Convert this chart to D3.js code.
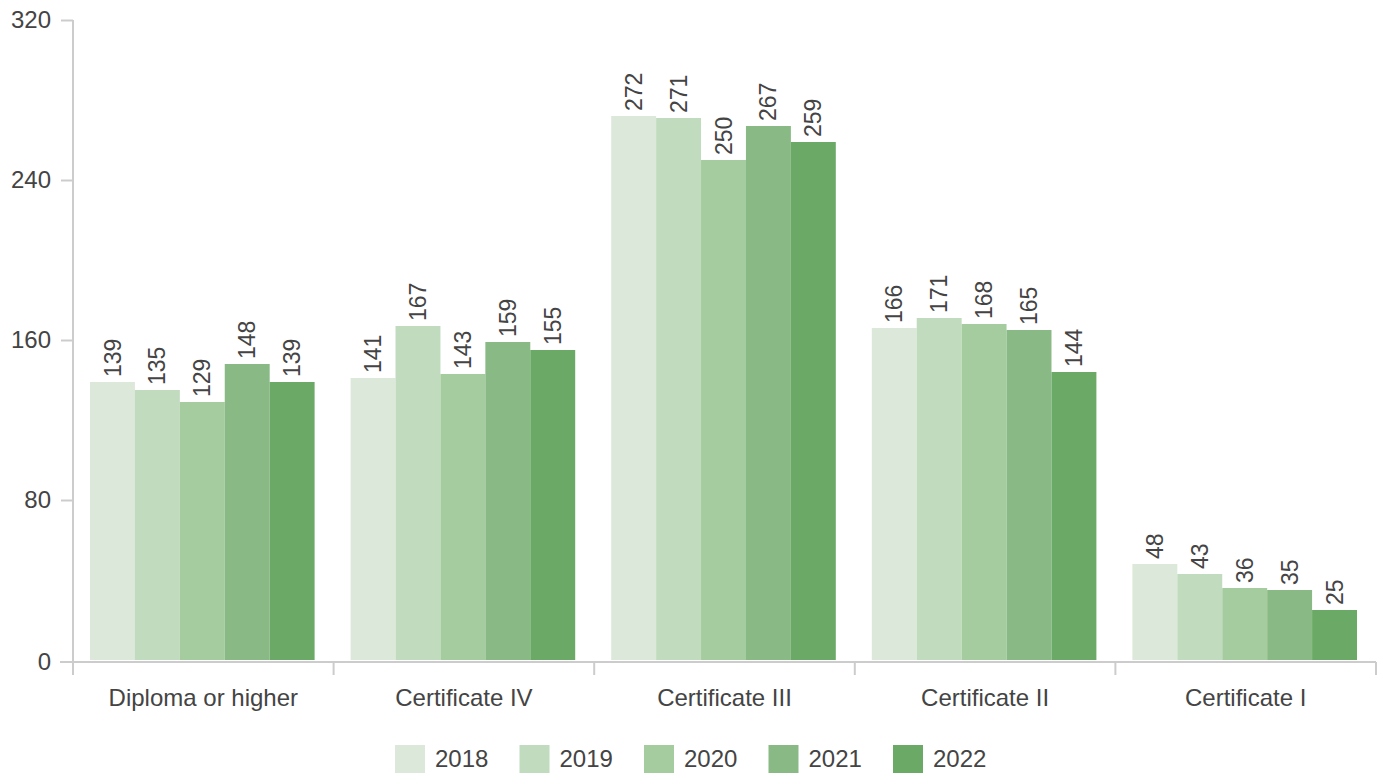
<!DOCTYPE html>
<html>
<head>
<meta charset="utf-8">
<script src="https://cdn.jsdelivr.net/npm/d3@7"></script>
<style>
  body { margin: 0; background: #fff; }
  text { font-family: 'Liberation Sans', Arial, sans-serif; fill: #444; }
</style>
</head>
<body>
<div id="chart-area"></div>
<script>
const categories = ['Diploma or higher', 'Certificate IV', 'Certificate III', 'Certificate II', 'Certificate I']
const years = ['2018', '2019', '2020', '2021', '2022']
const values2018 = [139, 141, 272, 166, 48]
const values2019 = [135, 167, 271, 171, 43]
const values2020 = [129, 143, 250, 168, 36]
const values2021 = [148, 159, 267, 165, 35]
const values2022 = [139, 155, 259, 144, 25]
const yTicks = [0, 80, 160, 240, 320]
const colors = ['#dce9da', '#c0dbbd', '#a5cc9f', '#89b984', '#6baa66']

const series = [values2018, values2019, values2020, values2021, values2022]

const W = 1382
const H = 773
const plotLeft = 73
const plotRight = 1376
const plotTop = 20
const plotBottom = 660

const svg = d3.select('#chart-area')
              .append('svg')
              .attr('width', W)
              .attr('height', H)

const x = d3.scaleBand()
            .domain(categories)
            .range([plotLeft, plotRight])

const inner = d3.scaleBand()
                .domain(years)
                .range([17, x.bandwidth() - 19])

const y = d3.scaleLinear()
            .domain([0, 320])
            .range([plotBottom, plotTop])

// y axis
const yAxis = svg.append('g')
   .attr('transform', 'translate(' + plotLeft + ',0)')
   .call(d3.axisLeft(y).tickValues(yTicks).tickSize(12).tickPadding(10))
yAxis.select('.domain').attr('stroke', '#ccc').attr('stroke-width', 2)
     .attr('d', 'M0,' + plotTop + 'V' + (plotBottom + 15))
yAxis.selectAll('.tick line').attr('stroke', '#ccc').attr('stroke-width', 2)
yAxis.selectAll('.tick text').attr('font-size', '24px').style('fill', '#444')
yAxis.selectAll('.tick').filter(d => d === 0).attr('transform', 'translate(0,' + (plotBottom + 2) + ')')

// bars
const groups = svg.selectAll('g.cat')
   .data(categories)
   .enter()
   .append('g')
   .attr('class', 'cat')
   .attr('transform', d => 'translate(' + x(d) + ',0)')

groups.selectAll('rect')
   .data((d, i) => years.map((yr, j) => ({ year: yr, value: series[j][i], j })))
   .enter()
   .append('rect')
   .attr('x', d => inner(d.year))
   .attr('y', d => y(d.value))
   .attr('width', inner.bandwidth())
   .attr('height', d => plotBottom - y(d.value))
   .attr('fill', d => colors[d.j])

groups.selectAll('text.val')
   .data((d, i) => years.map((yr, j) => ({ year: yr, value: series[j][i], j })))
   .enter()
   .append('text')
   .attr('class', 'val')
   .attr('transform', d => 'translate(' + (inner(d.year) + inner.bandwidth() / 2) + ',' + (y(d.value) - 5) + ') rotate(-90)')
   .attr('dy', '0.35em')
   .attr('font-size', '23px')
   .text(d => d.value)

// x axis
const xLine = svg.append('g')
xLine.append('line')
   .attr('x1', 60).attr('x2', plotRight)
   .attr('y1', plotBottom + 2).attr('y2', plotBottom + 2)
   .attr('stroke', '#ccc').attr('stroke-width', 2)
xLine.selectAll('line.tk')
   .data(categories.concat(['end']))
   .enter()
   .append('line')
   .attr('class', 'tk')
   .attr('x1', (d, i) => i < categories.length ? x(d) : plotRight)
   .attr('x2', (d, i) => i < categories.length ? x(d) : plotRight)
   .attr('y1', plotBottom + 2).attr('y2', plotBottom + 15)
   .attr('stroke', '#ccc').attr('stroke-width', 2)

svg.selectAll('text.catlabel')
   .data(categories)
   .enter()
   .append('text')
   .attr('class', 'catlabel')
   .attr('x', d => x(d) + x.bandwidth() / 2)
   .attr('y', 706)
   .attr('text-anchor', 'middle')
   .attr('font-size', '24px')
   .text(d => d)

// legend
const legend = svg.selectAll('g.legend')
   .data(years)
   .enter()
   .append('g')
   .attr('class', 'legend')
   .attr('transform', (d, i) => 'translate(' + (395 + i * 124.5) + ',745)')

legend.append('rect')
   .attr('width', 30)
   .attr('height', 30)
   .attr('fill', (d, i) => colors[i])

legend.append('text')
   .attr('x', 40)
   .attr('y', 22)
   .attr('font-size', '24px')
   .text(d => d)
</script>
</body>
</html>
